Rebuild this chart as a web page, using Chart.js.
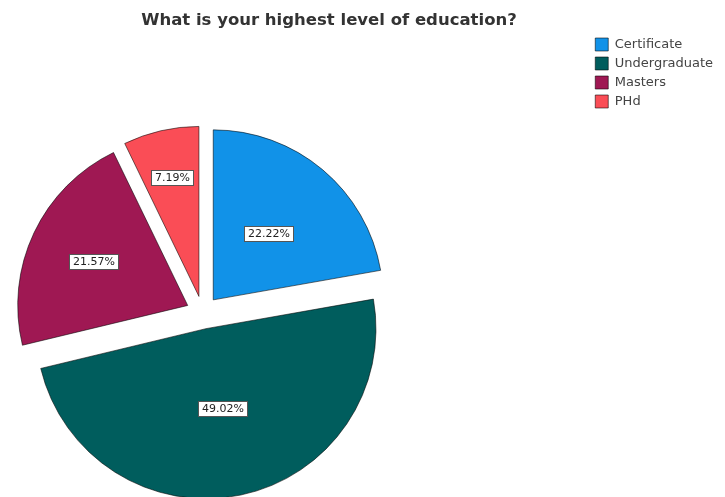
<!DOCTYPE html>
<html>
<head>
<meta charset="utf-8">
<script src="https://cdn.jsdelivr.net/npm/chart.js@4.4.0/dist/chart.umd.min.js"></script>
<style>
  html, body { margin: 0; padding: 0; background: #fff; overflow: hidden; width: 725px; height: 497px; }
  /* canvas is wider/taller than the window so the pie sits left and runs off the bottom */
  #wrap { position: absolute; left: -184px; top: 0; width: 909px; height: 593px; }
</style>
</head>
<body>
<div id="wrap"><canvas id="chart"></canvas></div>
<script>
const titleText = 'What is your highest level of education?';
const categories = ['Certificate', 'Undergraduate', 'Masters', 'PHd'];
const percentages = [22.22, 49.02, 21.57, 7.19];
const colors = ['#1192e8', '#005d5d', '#9f1853', '#fa4d56'];

// slices are pulled out by SHIFT px, labels sit at a share of the radius
const SHIFT = 16.5;
const labelDist = [0.51, 0.48, 0.61, 0.72];
const PAGE_SHIFT = 184;

const explodePlugin = {
  id: 'explode',
  beforeDatasetDraw(chart, args) {
    const ctx = chart.ctx;
    args.meta.data.forEach(arc => {
      const mid = (arc.startAngle + arc.endAngle) / 2;
      ctx.save();
      ctx.translate(Math.cos(mid) * SHIFT, Math.sin(mid) * SHIFT);
      arc.draw(ctx);
      ctx.restore();
    });
    return false;
  },
  afterDatasetsDraw(chart) {
    const ctx = chart.ctx;
    const meta = chart.getDatasetMeta(0);
    ctx.save();
    ctx.font = '11px "DejaVu Sans"';
    ctx.textAlign = 'center';
    ctx.textBaseline = 'middle';
    meta.data.forEach((arc, i) => {
      const mid = (arc.startAngle + arc.endAngle) / 2;
      const r = SHIFT + arc.outerRadius * labelDist[i];
      const x = arc.x + Math.cos(mid) * r;
      const y = arc.y + Math.sin(mid) * r;
      const txt = percentages[i].toFixed(2) + '%';
      const w = Math.round(ctx.measureText(txt).width + 7);
      const h = 15;
      const bx = Math.round(x - w / 2), by = Math.round(y - h / 2);
      ctx.fillStyle = '#fff';
      ctx.fillRect(bx, by, w, h);
      ctx.strokeStyle = '#555';
      ctx.lineWidth = 1;
      ctx.strokeRect(bx + 0.5, by + 0.5, w, h);
      ctx.fillStyle = '#222';
      ctx.fillText(txt, bx + w / 2 + 0.5, by + h / 2 + 1);
    });
    ctx.restore();
  },
  afterDraw(chart) {
    const ctx = chart.ctx;
    ctx.save();
    ctx.font = 'bold 16.5px "DejaVu Sans"';
    ctx.fillStyle = '#333';
    ctx.textAlign = 'center';
    ctx.textBaseline = 'middle';
    ctx.fillText(titleText, 329 + PAGE_SHIFT, 21);
    ctx.restore();
  }
};

new Chart(document.getElementById('chart'), {
  type: 'pie',
  data: {
    labels: categories,
    datasets: [{
      data: percentages,
      backgroundColor: colors,
      borderColor: 'rgba(0,0,0,0.55)',
      borderWidth: 1,
      radius: 170
    }]
  },
  options: {
    responsive: true,
    maintainAspectRatio: false,
    animation: false,
    layout: {
      padding: { left: 0, right: 2, top: 32, bottom: 0 }
    },
    plugins: {
      tooltip: { enabled: false },
      legend: {
        position: 'right',
        align: 'start',
        labels: {
          boxWidth: 13,
          boxHeight: 13,
          padding: 6,
          color: '#444',
          font: { family: 'DejaVu Sans', size: 13 }
        }
      }
    }
  },
  plugins: [explodePlugin]
});
</script>
</body>
</html>
